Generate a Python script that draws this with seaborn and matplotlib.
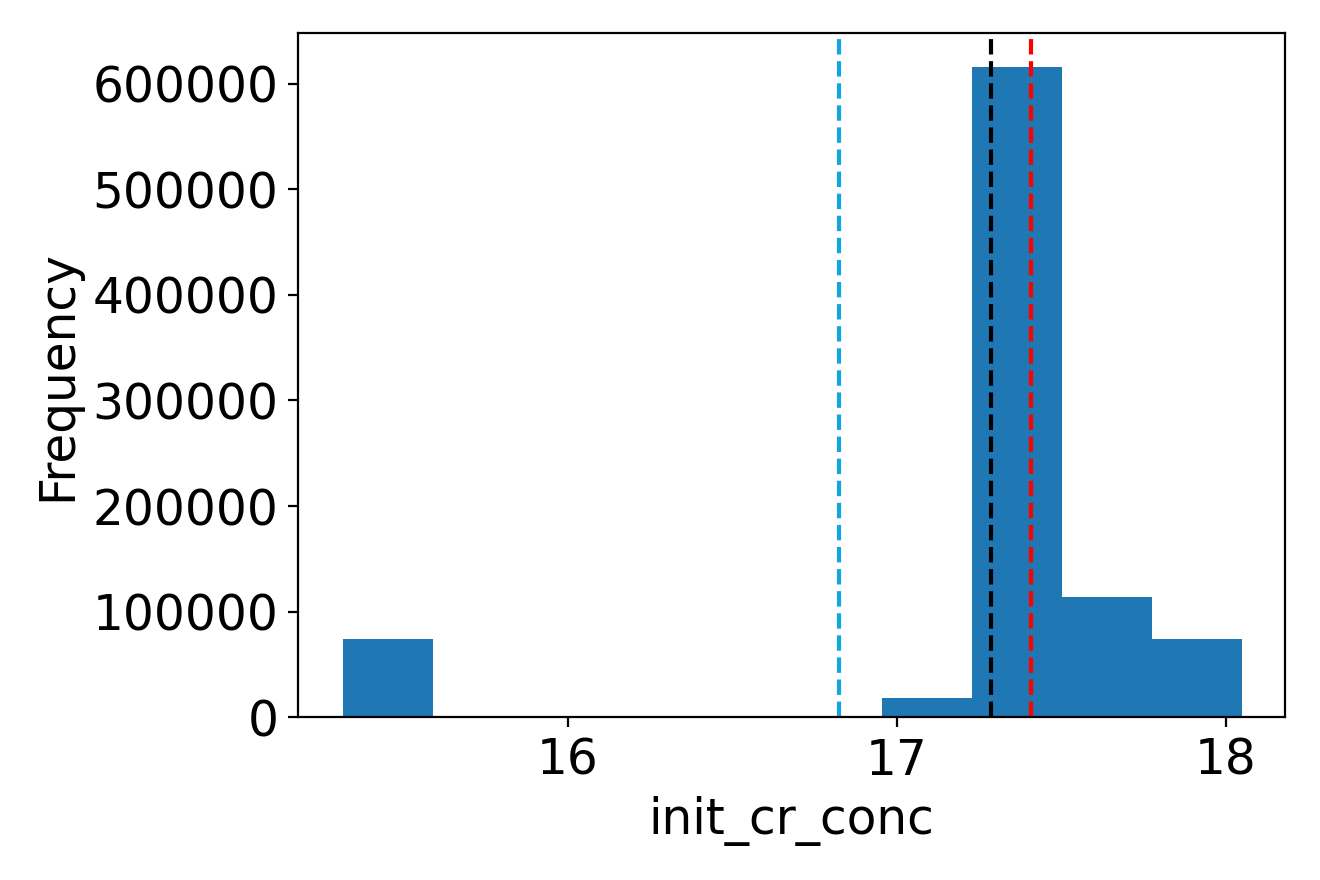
import numpy as np
import pandas as pd
import matplotlib
matplotlib.use("Agg")
import matplotlib.pyplot as plt
import seaborn as sns

# histogram (10 bins)
bin_edges = list(np.linspace(15.316, 18.049, 11))
bin_counts = [74000, 0, 0, 0, 0, 0, 18000, 616000, 114000, 74000]
bin_centers = [(a + b) / 2 for a, b in zip(bin_edges[:-1], bin_edges[1:])]

# reference lines
line_values = [16.824, 17.286, 17.407]
line_colors = ["#10a6e0", "black", "red"]

df = pd.DataFrame({"init_cr_conc": bin_centers, "count": bin_counts})

sns.set_style("ticks", rc={
    "text.color": "black", "axes.labelcolor": "black",
    "xtick.color": "black", "ytick.color": "black",
    "axes.edgecolor": "black", "axes.linewidth": 0.8,
    "xtick.major.width": 0.8, "ytick.major.width": 0.8,
    "xtick.major.size": 3.5, "ytick.major.size": 3.5,
})
plt.rcParams["font.family"] = ["DejaVu Sans"]
plt.rcParams["font.size"] = 17.5

fig = plt.figure(figsize=(6.6, 4.4), dpi=200)
ax = fig.add_axes([0.2258, 0.185, 0.748, 0.7775])

sns.histplot(data=df, x="init_cr_conc", weights="count", bins=bin_edges, ax=ax,
             color="#1f77b4", alpha=1, edgecolor="none", linewidth=0)

for v, c in zip(line_values, line_colors):
    ax.axvline(v, color=c, linestyle="--", linewidth=1.5)

ax.set_xlim(15.179, 18.182)
ax.set_ylim(0, 648000)
ax.set_xticks([16, 17, 18])
ax.set_yticks(range(0, 600001, 100000))
ax.tick_params(labelsize=17.5, pad=3.5)
ax.set_xlabel("init_cr_conc", fontsize=17.5, labelpad=4)
ax.set_ylabel("Frequency", fontsize=17.5, labelpad=4)

fig.savefig("out.png", dpi=200)
